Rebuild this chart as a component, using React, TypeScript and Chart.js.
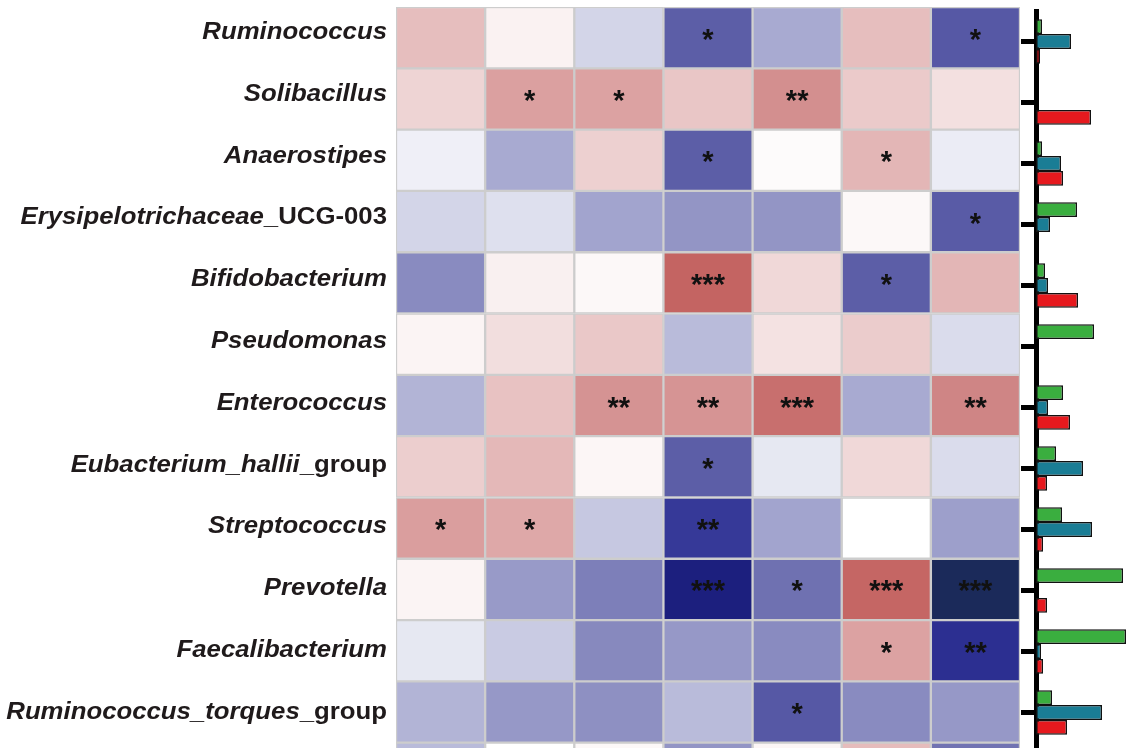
import React, { useEffect, useRef } from 'react';
import { Chart, registerables } from 'chart.js';

Chart.register(...registerables);

// rows, top to bottom (the last one is cut off at the bottom edge)
const genera = [
  'Ruminococcus',
  'Solibacillus',
  'Anaerostipes',
  'Erysipelotrichaceae_UCG-003',
  'Bifidobacterium',
  'Pseudomonas',
  'Enterococcus',
  'Eubacterium_hallii_group',
  'Streptococcus',
  'Prevotella',
  'Faecalibacterium',
  'Ruminococcus_torques_group',
  '',
];

// parts of a name that are not set in italics
const plainSuffixes = ['_UCG-003', '_group'];

const factors = ['F1', 'F2', 'F3', 'F4', 'F5', 'F6', 'F7'];

// correlation coefficients, one row per genus, one column per factor
const corr = [
  [0.31, 0.06, -0.11, -0.55, -0.24, 0.31, -0.57],
  [0.2, 0.46, 0.45, 0.27, 0.55, 0.25, 0.14],
  [-0.04, -0.24, 0.22, -0.55, 0.02, 0.35, -0.05],
  [-0.11, -0.08, -0.26, -0.32, -0.32, 0.03, -0.56],
  [-0.36, 0.07, 0.03, 0.75, 0.18, -0.55, 0.35],
  [0.05, 0.15, 0.26, -0.19, 0.13, 0.24, -0.09],
  [-0.21, 0.29, 0.53, 0.52, 0.7, -0.24, 0.6],
  [0.23, 0.34, 0.04, -0.55, -0.06, 0.18, -0.09],
  [0.47, 0.42, -0.15, -0.68, -0.26, 0.0, -0.28],
  [0.05, -0.3, -0.41, -0.85, -0.47, 0.74, -1.0],
  [-0.06, -0.14, -0.37, -0.31, -0.36, 0.45, -0.73],
  [-0.21, -0.31, -0.34, -0.19, -0.57, -0.36, -0.31],
  [-0.19, 0.0, 0.03, -0.32, 0.04, 0.32, -0.46],
];

const stars = [
  ['', '', '', '*', '', '', '*'],
  ['', '*', '*', '', '**', '', ''],
  ['', '', '', '*', '', '*', ''],
  ['', '', '', '', '', '', '*'],
  ['', '', '', '***', '', '*', ''],
  ['', '', '', '', '', '', ''],
  ['', '', '**', '**', '***', '', '**'],
  ['', '', '', '*', '', '', ''],
  ['*', '*', '', '**', '', '', ''],
  ['', '', '', '***', '*', '***', '***'],
  ['', '', '', '', '', '*', '**'],
  ['', '', '', '', '*', '', ''],
  ['', '', '', '', '', '', ''],
];

// side bars per genus
const greenBars = [6, 0, 6, 41, 9, 58, 27, 20, 26, 87, 90, 16, 0];
const tealBars = [35, 0, 25, 14, 12, 0, 12, 47, 56, 0, 5, 66, 0];
const redBars = [4, 55, 27, 0, 42, 0, 34, 11, 7, 11, 7, 31, 0];

const colorStops: [number, number[]][] = [
  [-1.0, [27, 42, 90]],
  [-0.85, [28, 31, 126]],
  [-0.7, [48, 51, 150]],
  [-0.55, [92, 94, 167]],
  [-0.4, [127, 129, 186]],
  [-0.25, [165, 167, 207]],
  [-0.1, [214, 216, 234]],
  [0, [255, 255, 255]],
  [0.15, [242, 222, 222]],
  [0.3, [231, 192, 192]],
  [0.45, [220, 162, 162]],
  [0.6, [207, 133, 133]],
  [0.75, [196, 100, 98]],
];

function corrColor(v: number): string {
  if (v <= colorStops[0][0]) return `rgb(${colorStops[0][1].join(',')})`;
  for (let i = 1; i < colorStops.length; i++) {
    const [v1, c1] = colorStops[i];
    if (v <= v1) {
      const [v0, c0] = colorStops[i - 1];
      const t = (v - v0) / (v1 - v0);
      const c = c0.map((a, k) => Math.round(a + (c1[k] - a) * t));
      return `rgb(${c.join(',')})`;
    }
  }
  return `rgb(${colorStops[colorStops.length - 1][1].join(',')})`;
}

const FONT = '"Liberation Sans", Arial, sans-serif';
const LABEL_STRETCH = 1.12;

const heatText = {
  id: 'heatText',
  afterDatasetsDraw(chart: any) {
    const { ctx, chartArea } = chart;
    const x = chart.scales.x;
    const y = chart.scales.y;
    ctx.save();
    ctx.fillStyle = '#111';
    ctx.textAlign = 'center';
    ctx.textBaseline = 'alphabetic';
    ctx.font = `bold 29px ${FONT}`;
    stars.forEach((row, r) =>
      row.forEach((s, c) => {
        if (!s) return;
        ctx.fillText(s, x.getPixelForValue(c + 0.5), y.getPixelForValue(r) + 11);
      })
    );

    ctx.textAlign = 'right';
    ctx.textBaseline = 'middle';
    ctx.fillStyle = '#1f1a1b';
    genera.forEach((name, r) => {
      if (!name) return;
      const suffix = plainSuffixes.find((s) => name.endsWith(s)) || '';
      const main = name.slice(0, name.length - suffix.length);
      const yy = y.getPixelForValue(r) - 5 + r * 0.5;
      ctx.save();
      ctx.translate(chartArea.left - 9, yy);
      ctx.scale(LABEL_STRETCH, 1);
      let xr = 0;
      if (suffix) {
        ctx.font = `bold 23px ${FONT}`;
        ctx.fillText(suffix, xr, 0);
        xr -= ctx.measureText(suffix).width;
      }
      ctx.font = `italic bold 23px ${FONT}`;
      ctx.fillText(main, xr, 0);
      ctx.restore();
    });
    ctx.restore();
  },
};

const App: React.FC = () => {
  const heatRef = useRef<HTMLCanvasElement>(null);
  const barRef = useRef<HTMLCanvasElement>(null);

  useEffect(() => {
    if (!heatRef.current || !barRef.current) return;

    const heat = new Chart(heatRef.current, {
      type: 'bar',
      data: {
        labels: genera,
        datasets: factors.map((f, c) => ({
          label: f,
          data: genera.map(() => [c, c + 1]),
          backgroundColor: genera.map((_, r) => corrColor(corr[r][c])),
          borderColor: '#cdcdcd',
          borderWidth: 1.5,
          borderSkipped: false,
          barPercentage: 1,
          categoryPercentage: 1,
          grouped: false,
        })),
      } as any,
      options: {
        indexAxis: 'y',
        animation: false,
        responsive: true,
        maintainAspectRatio: false,
        layout: { padding: { left: 396, right: 2, top: 7, bottom: 8 } },
        scales: {
          x: { type: 'linear', min: 0, max: factors.length, display: false },
          y: { type: 'category', display: false, offset: true },
        },
        plugins: { legend: { display: false }, tooltip: { enabled: false } },
      },
      plugins: [heatText],
    });

    const bars = new Chart(barRef.current, {
      type: 'bar',
      data: {
        labels: genera,
        datasets: [
          { label: 'green', data: greenBars, backgroundColor: '#3aae3f' },
          { label: 'teal', data: tealBars, backgroundColor: '#1a7d95' },
          { label: 'red', data: redBars, backgroundColor: '#e6191e' },
        ],
      },
      options: {
        indexAxis: 'y',
        animation: false,
        responsive: true,
        maintainAspectRatio: false,
        layout: { padding: { left: 5, right: 0, top: 11, bottom: 8 } },
        datasets: {
          bar: {
            barPercentage: 1,
            categoryPercentage: 0.73,
            borderColor: '#111',
            borderWidth: 1.5,
            borderSkipped: false,
          },
        },
        scales: {
          x: { min: 0, max: 91, display: false },
          y: {
            offset: true,
            z: 1,
            grid: { offset: false, drawOnChartArea: false, color: '#000', lineWidth: 5, tickLength: 15 },
            border: { color: '#000', width: 5 },
            ticks: { display: false },
          },
        },
        plugins: { legend: { display: false }, tooltip: { enabled: false } },
      },
    });

    return () => {
      heat.destroy();
      bars.destroy();
    };
  }, []);

  return (
    <div style={{ position: 'absolute', left: 0, top: 0, width: 1127, height: 748, overflow: 'hidden', background: '#fff' }}>
      <div style={{ position: 'absolute', left: 0, top: 0, width: 1022, height: 812 }}>
        <canvas ref={heatRef} />
      </div>
      <div style={{ position: 'absolute', left: 1016, top: 0, width: 111, height: 812 }}>
        <canvas ref={barRef} />
      </div>
    </div>
  );
};

export default App;
